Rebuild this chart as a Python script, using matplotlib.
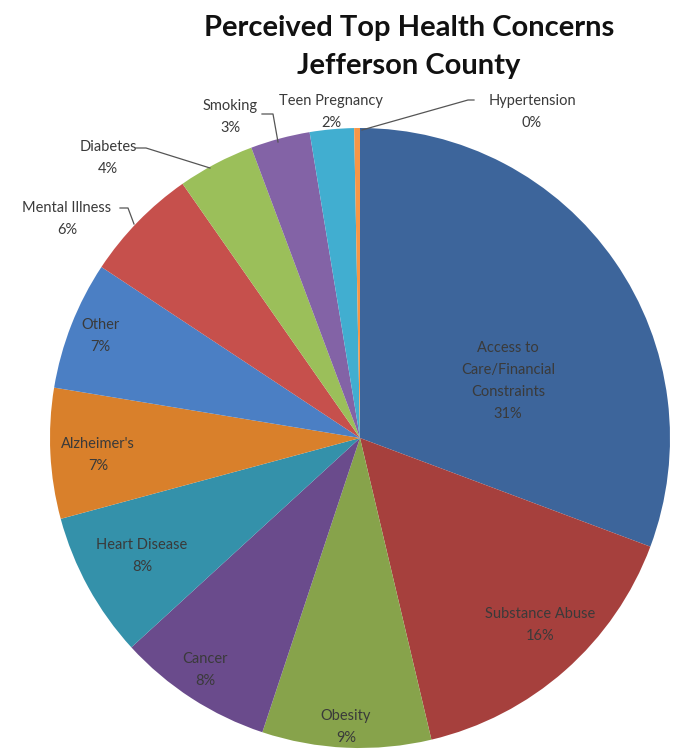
import matplotlib.pyplot as plt
import numpy as np

plt.rcParams['font.family'] = ['Lato', 'DejaVu Sans']

concerns = ['Access to\nCare/Financial\nConstraints', 'Substance Abuse', 'Obesity', 'Cancer',
            'Heart Disease', "Alzheimer's", 'Other', 'Mental Illness', 'Diabetes',
            'Smoking', 'Teen Pregnancy', 'Hypertension']
shares = [30.7, 15.6, 8.8, 8.1, 7.6, 6.8, 6.7, 6.0, 4.0, 3.1, 2.3, 0.3]
colors = ['#3d659b', '#a6403d', '#87a34b', '#6a4b8c', '#3491aa', '#d9802b',
          '#4b7fc4', '#c6504c', '#9bbf5a', '#8363a6', '#41aed0', '#f79646']

# pie layout in image pixels
W, H = 683, 756
cx, cy, R = 360, 438, 310


def px(x, y):
    return (x - cx) / R, (cy - y) / R


fig = plt.figure(figsize=(W / 100, H / 100), dpi=100)
ax = fig.add_axes([0, 0, 1, 1])
ax.pie(shares, colors=colors, startangle=90, counterclock=False, radius=1,
       wedgeprops=dict(linewidth=0))
ax.set_xlim(-cx / R, (W - cx) / R)
ax.set_ylim((cy - H) / R, cy / R)
ax.set_aspect('auto')
ax.axis('off')

label_color = '#3a3a3a'
lab_kw = dict(ha='center', va='center', fontsize=10.5, color=label_color, linespacing=1.7)

# label positions (pixels) for inside labels
inside_pos = {0: (508, 381), 1: (540, 625), 2: (346, 727), 3: (205, 670),
              4: (142, 556), 5: (98, 455), 6: (100, 336)}
for i, (x, y) in inside_pos.items():
    ax.text(*px(x, y), f'{concerns[i]}\n{round(shares[i])}%', **lab_kw)

# outside labels with leader lines: text pos, leader path
outside = {
    7: ((67, 219), [(120, 208), (128, 208), (134, 224)]),
    8: ((108, 158), [(136, 148), (146, 148), (210, 168)]),
    9: ((230, 117), [(262, 114), (273, 114), (278, 142)]),
    10: ((331, 112), None),
    11: ((532, 112), [(474, 100), (468, 100), (362, 130)]),
}
for i, ((x, y), path) in outside.items():
    ax.text(*px(x, y), f'{concerns[i]}\n{round(shares[i])}%', **lab_kw)
    if path:
        pts = np.array([px(a, b) for a, b in path])
        ax.plot(pts[:, 0], pts[:, 1], color='#555555', lw=0.9)

fig.text(409 / W, 1 - 28 / H, 'Perceived Top Health Concerns', ha='center', va='center',
         fontsize=21, fontweight='bold', color='#111111')
fig.text(409 / W, 1 - 66 / H, 'Jefferson County', ha='center', va='center',
         fontsize=21, fontweight='bold', color='#111111')

fig.savefig('out.png', dpi=100)
